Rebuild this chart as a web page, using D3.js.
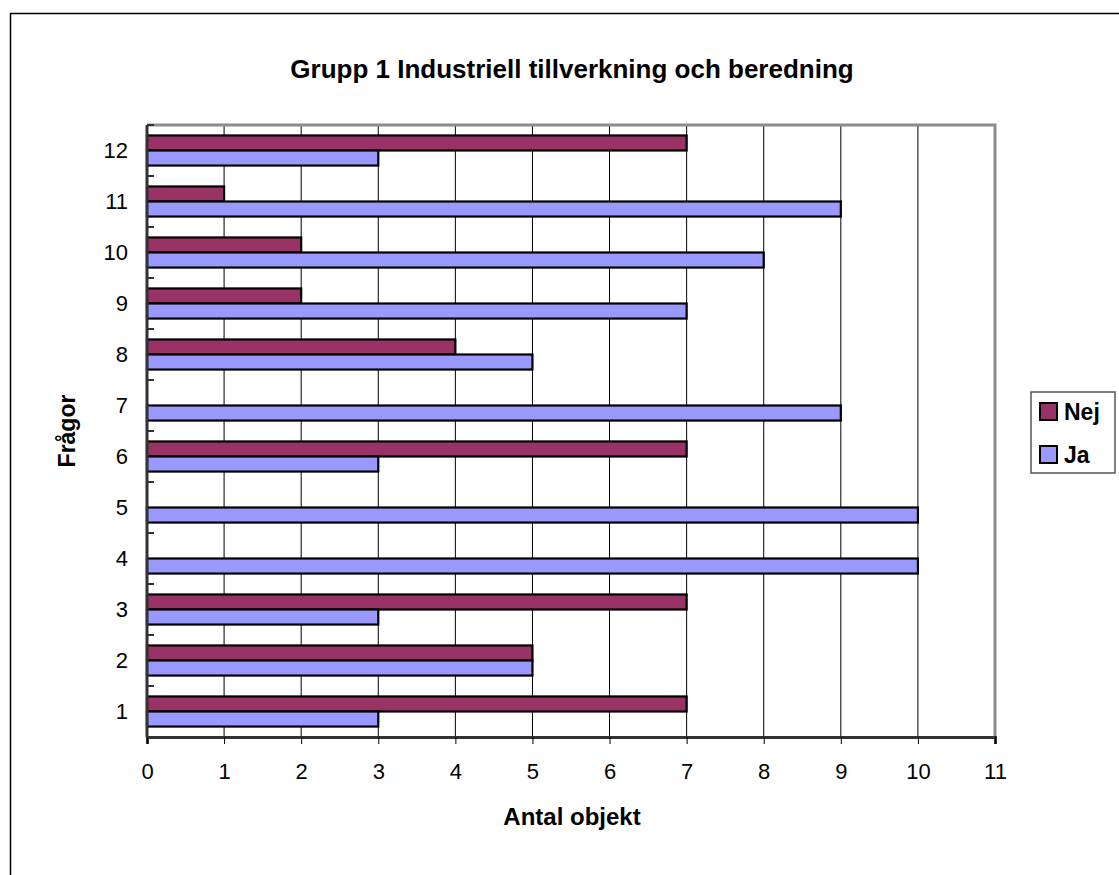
<!DOCTYPE html>
<html>
<head>
<meta charset="utf-8">
<script src="https://cdn.jsdelivr.net/npm/d3@7"></script>
<style>
  body { margin: 0; background: #fff; }
  svg text { font-family: "Liberation Sans", Arial, sans-serif; fill: #000; }
</style>
</head>
<body>
<div id="chart"></div>
<script>
var categories = ["1","2","3","4","5","6","7","8","9","10","11","12"]
var seriesNames = ["Nej","Ja"]
var nejValues = [7,5,7,0,0,7,0,4,2,2,1,7]
var jaValues = [3,5,3,10,10,3,9,5,7,8,9,3]
var xTicks = [0,1,2,3,4,5,6,7,8,9,10,11]
var colors = {Nej: "#993366", Ja: "#9999ff"}

var width = 1119,
    height = 875,
    plotLeft = 147, plotRight = 995,
    plotTop = 125, plotBottom = 737

var svg = d3.select("#chart").append("svg")
    .attr("width", width)
    .attr("height", height)

// outer chart border (right/bottom edges run off the page)
svg.append("rect")
    .attr("x", 10.5).attr("y", 13.5)
    .attr("width", 1130).attr("height", 900)
    .attr("fill", "none").attr("stroke", "#000").attr("stroke-width", 1.5)

var x = d3.scaleLinear().domain([0, 11]).range([plotLeft, plotRight])

var y = d3.scaleBand()
  .domain(categories.slice().reverse())
  .range([plotTop, plotBottom])
  .paddingInner(0.41)
  .paddingOuter(0.205)

var ySub = d3.scaleBand().domain(seriesNames).range([0, y.bandwidth()])

var rows = categories.map(function(c, i) {
  return {cat: c, Nej: nejValues[i], Ja: jaValues[i]}
})

// gridlines
svg.selectAll("line.grid")
    .data(xTicks.slice(1, -1))
  .enter().append("line")
    .attr("class", "grid")
    .attr("x1", function(d) { return x(d) }).attr("x2", function(d) { return x(d) })
    .attr("y1", plotTop).attr("y2", plotBottom)
    .attr("stroke", "#000").attr("stroke-width", 1)

// plot frame top/right in grey
svg.append("path")
    .attr("d", "M" + plotLeft + "," + plotTop + "H" + plotRight + "V" + plotBottom)
    .attr("fill", "none").attr("stroke", "#8c8c8c").attr("stroke-width", 3)

// bars
var groups = svg.selectAll("g.row")
    .data(rows)
  .enter().append("g")
    .attr("class", "row")
    .attr("transform", function(d) { return "translate(0," + y(d.cat) + ")" })

groups.selectAll("rect")
    .data(function(d) { return seriesNames.map(function(s) { return {s: s, v: d[s]} }).filter(function(e) { return e.v > 0 }) })
  .enter().append("rect")
    .attr("x", x(0))
    .attr("y", function(d) { return ySub(d.s) })
    .attr("width", function(d) { return x(d.v) - x(0) })
    .attr("height", ySub.bandwidth())
    .attr("fill", function(d) { return colors[d.s] })
    .attr("stroke", "#000").attr("stroke-width", 2.2)

// x axis
var xAxis = svg.append("g")
    .attr("transform", "translate(0," + plotBottom + ")")
    .call(d3.axisBottom(x).tickValues(xTicks).tickSize(7).tickPadding(19))
xAxis.select(".domain").attr("stroke", "#333").attr("stroke-width", 3)
xAxis.selectAll(".tick line").attr("stroke", "#000")
xAxis.selectAll("text").style("font-size", "22px")

// y axis: ticks at category boundaries, pointing inward
var yAxis = svg.append("g").attr("transform", "translate(" + plotLeft + ",0)")
yAxis.append("line")
    .attr("x1", 0).attr("x2", 0).attr("y1", plotTop).attr("y2", plotBottom)
    .attr("stroke", "#333").attr("stroke-width", 3)
var step = y.step()
yAxis.selectAll("line.ytick")
    .data(d3.range(categories.length + 1))
  .enter().append("line")
    .attr("class", "ytick")
    .attr("x1", 0).attr("x2", 7)
    .attr("y1", function(i) { return plotTop + i * step }).attr("y2", function(i) { return plotTop + i * step })
    .attr("stroke", "#333").attr("stroke-width", 2)
yAxis.selectAll("text")
    .data(categories)
  .enter().append("text")
    .attr("x", -19)
    .attr("y", function(d) { return y(d) + y.bandwidth() / 2 })
    .attr("dy", "0.33em")
    .attr("text-anchor", "end")
    .style("font-size", "22px")
    .text(function(d) { return d })

// titles
svg.append("text")
    .attr("x", 572).attr("y", 78)
    .attr("text-anchor", "middle")
    .style("font-size", "26px").style("font-weight", "bold")
    .text("Grupp 1 Industriell tillverkning och beredning")

svg.append("text")
    .attr("x", 572).attr("y", 825)
    .attr("text-anchor", "middle")
    .style("font-size", "24px").style("font-weight", "bold")
    .text("Antal objekt")

svg.append("text")
    .attr("transform", "translate(75,431) rotate(-90)")
    .attr("text-anchor", "middle")
    .style("font-size", "23px").style("font-weight", "bold")
    .text("Frågor")

// legend
var legend = svg.append("g")
legend.append("rect")
    .attr("x", 1031).attr("y", 392)
    .attr("width", 84).attr("height", 81)
    .attr("fill", "#fff").attr("stroke", "#555").attr("stroke-width", 1.5)

var item = legend.selectAll("g.item")
    .data(seriesNames)
  .enter().append("g")
    .attr("class", "item")
    .attr("transform", function(d, i) { return "translate(1040," + (412 + i * 43) + ")" })
item.append("rect")
    .attr("x", 0).attr("y", -9)
    .attr("width", 17).attr("height", 17)
    .attr("fill", function(d) { return colors[d] })
    .attr("stroke", "#000").attr("stroke-width", 2)
item.append("text")
    .attr("x", 24).attr("dy", "0.36em")
    .style("font-size", "23px").style("font-weight", "bold")
    .text(function(d) { return d })
</script>
</body>
</html>
